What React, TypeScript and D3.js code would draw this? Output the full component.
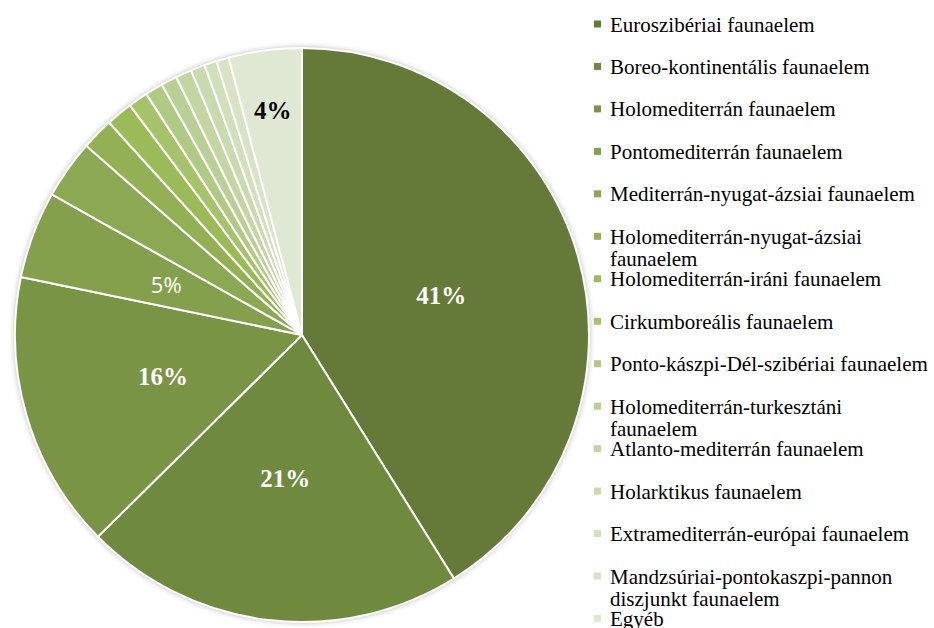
import React from "react";
import * as d3 from "d3";

const categories: string[] = [
  "Euroszibériai faunaelem",
  "Boreo-kontinentális faunaelem",
  "Holomediterrán faunaelem",
  "Pontomediterrán faunaelem",
  "Mediterrán-nyugat-ázsiai faunaelem",
  "Holomediterrán-nyugat-ázsiai|faunaelem",
  "Holomediterrán-iráni faunaelem",
  "Cirkumboreális faunaelem",
  "Ponto-kászpi-Dél-szibériai faunaelem",
  "Holomediterrán-turkesztáni|faunaelem",
  "Atlanto-mediterrán faunaelem",
  "Holarktikus faunaelem",
  "Extramediterrán-európai faunaelem",
  "Mandzsúriai-pontokaszpi-pannon|diszjunkt faunaelem",
  "Egyéb",
];

const values: number[] = [41, 21.4, 15.6, 4.9, 3.3, 1.8, 1.5, 1.1, 1.0, 0.9, 0.9, 0.8, 0.7, 0.7, 4.1];

const colors: string[] = [
  "#657a38", "#6f8a3f", "#7a9446", "#85a04d", "#8ba852", "#93b055", "#9bbb59",
  "#a6c36c", "#b0c983", "#b9cf95", "#c2d5a3", "#c9dab0", "#d1dfbb", "#d8e3c6", "#dfe8d3",
];

const W = 934;
const H = 628;
const cx = 302;
const cy = 335;
const R = 287;

export default function App() {
  const pie = d3.pie<number>().sort(null).value((d) => d);
  const arcs = pie(values);
  const arcGen = d3.arc<d3.PieArcDatum<number>>().innerRadius(0).outerRadius(R);
  const total = d3.sum(values);

  const legendY = d3.scaleLinear().domain([0, categories.length - 1]).range([24.5, 619]);

  return (
    <svg width={W} height={H} style={{ position: "absolute", left: 0, top: 0 }}>
      <defs>
        <filter id="sh" x="-10%" y="-10%" width="120%" height="120%">
          <feGaussianBlur in="SourceAlpha" stdDeviation="3" />
          <feComponentTransfer>
            <feFuncA type="linear" slope="0.35" />
          </feComponentTransfer>
          <feMerge>
            <feMergeNode />
            <feMergeNode in="SourceGraphic" />
          </feMerge>
        </filter>
      </defs>
      <rect width={W} height={H} fill="#ffffff" />
      <g transform={`translate(${cx},${cy})`}>
        <circle r={R} fill="#ffffff" filter="url(#sh)" />
        {arcs.map((a, i) => (
          <path key={i} d={arcGen(a) || ""} fill={colors[i]} stroke="#ffffff" strokeWidth={2} strokeLinejoin="round" />
        ))}
        {arcs.map((a, i) => {
          const pct = Math.round((a.data / total) * 100);
          if (a.data < 4) return null;
          const mid = (a.startAngle + a.endAngle) / 2;
          const lr = i === arcs.length - 1 ? R * 0.79 : R * 0.505;
          const x = Math.sin(mid) * lr;
          const y = -Math.cos(mid) * lr;
          const isLast = i === arcs.length - 1;
          const sans = pct === 5;
          return (
            <text
              key={"l" + i}
              x={x}
              y={y}
              textAnchor="middle"
              dominantBaseline="central"
              fill={isLast ? "#000000" : "#ffffff"}
              fontFamily={sans ? "'Open Sans', sans-serif" : "'Liberation Serif', 'Times New Roman', serif"}
              fontWeight={sans ? 400 : 700}
              fontSize={sans ? 22 : 25}
            >
              {pct}%
            </text>
          );
        })}
      </g>
      <g>
        {categories.map((c, i) => {
          const y = legendY(i);
          const lines = c.split("|");
          return (
            <g key={"g" + i}>
              <rect x={594} y={y - 4} width={7} height={7} fill={colors[i]} />
              {lines.map((ln, j) => (
                <text
                  key={j}
                  x={610}
                  y={y + j * 22}
                  dominantBaseline="central"
                  fontFamily="'Liberation Serif', 'Times New Roman', serif"
                  fontSize={21}
                  fill="#000000"
                >
                  {ln}
                </text>
              ))}
            </g>
          );
        })}
      </g>
    </svg>
  );
}
